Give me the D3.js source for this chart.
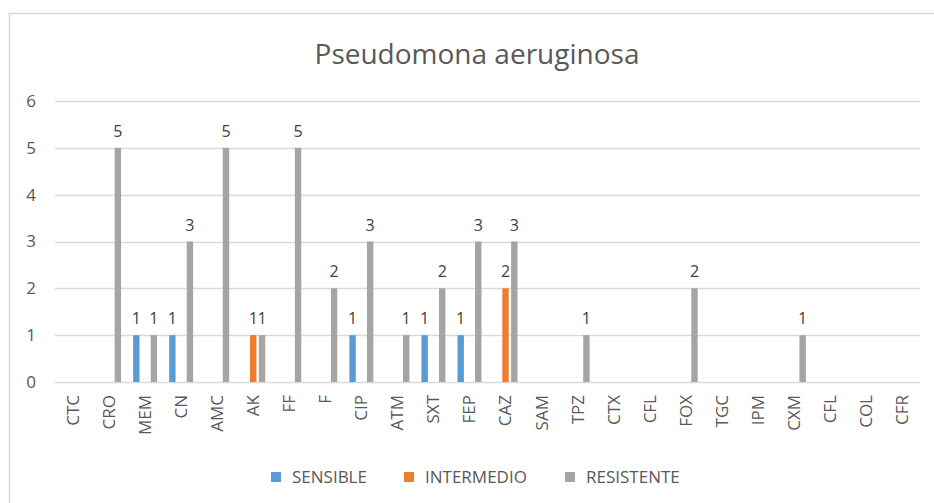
<!DOCTYPE html>
<html>
<head>
<meta charset="utf-8">
<script src="https://cdn.jsdelivr.net/npm/d3@7"></script>
<style>
	body { margin: 0; background: #fff; }
	svg { display: block; font-family: "Open Sans", sans-serif; }
</style>
</head>
<body>
<script>
// Antibióticos (categorías del eje X)
var categories = ['CTC', 'CRO', 'MEM', 'CN', 'AMC', 'AK', 'FF', 'F', 'CIP', 'ATM', 'SXT', 'FEP',
	'CAZ', 'SAM', 'TPZ', 'CTX', 'CFL', 'FOX', 'TGC', 'IPM', 'CXM', 'CFL', 'COL', 'CFR'];

// Valores por serie (null = celda vacía)
var sensible   = [null, null, 1, 1, null, null, null, null, 1, null, 1, 1,
	null, null, null, null, null, null, null, null, null, null, null, null];
var intermedio = [null, null, null, null, null, 1, null, null, null, null, null, null,
	2, null, null, null, null, null, null, null, null, null, null, null];
var resistente = [null, 5, 1, 3, 5, 1, 5, 2, 3, 1, 2, 3,
	3, null, 1, null, null, 2, null, null, 1, null, null, null];

var seriesNames = ['SENSIBLE', 'INTERMEDIO', 'RESISTENTE'];
var seriesColors = ['#5b9bd5', '#ed7d31', '#a5a5a5'];
var yTicks = [0, 1, 2, 3, 4, 5, 6];

function ready() {
	var width = 934,
			height = 503,
			margin = { top: 101, right: 14, bottom: 121, left: 55 },
			innerW = width - margin.left - margin.right,
			innerH = height - margin.top - margin.bottom;

	var svg = d3.select('body')
		.append('svg')
		.attr('width', width)
		.attr('height', height);

	// marco del gráfico
	svg.append('rect')
		.attr('x', 9.5).attr('y', 13.5)
		.attr('width', width).attr('height', height)
		.attr('fill', 'none')
		.attr('stroke', '#d9d9d9')
		.attr('stroke-width', 1.5);

	// título
	svg.append('text')
		.attr('x', 477).attr('y', 64)
		.attr('text-anchor', 'middle')
		.attr('fill', '#595959')
		.style('font-size', '28px')
		.text('Pseudomona aeruginosa');

	var g = svg.append('g').attr('transform', 'translate(' + margin.left + ',' + margin.top + ')');

	var x = d3.scaleBand().domain(d3.range(categories.length)).range([0, innerW]);
	var xInner = d3.scaleBand().domain(d3.range(3)).range([-12, 12]).paddingInner(0.27);
	var y = d3.scaleLinear().domain([0, 6]).range([innerH, 0]);

	// líneas de la cuadrícula
	g.append('g')
		.selectAll('line')
		.data(yTicks)
		.enter()
		.append('line')
		.attr('x1', 0).attr('x2', innerW)
		.attr('y1', function(d) { return Math.round(y(d)) + 0.5; })
		.attr('y2', function(d) { return Math.round(y(d)) + 0.5; })
		.attr('stroke', '#d9d9d9')
		.attr('stroke-width', 1.5);

	// eje Y
	var yAxis = g.append('g')
		.call(d3.axisLeft(y).tickValues(yTicks).tickFormat(d3.format('d')).tickSize(0).tickPadding(19));
	yAxis.select('.domain').remove();
	yAxis.selectAll('text')
		.attr('fill', '#595959')
		.style('font-size', '17px')
		.style('font-family', '"Open Sans", sans-serif');

	// eje X
	var xAxis = g.append('g')
		.attr('transform', 'translate(0,' + innerH + ')')
		.call(d3.axisBottom(x).tickSize(0).tickFormat(function(i) { return categories[i]; }));
	xAxis.select('.domain').remove();
	xAxis.selectAll('text')
		.attr('fill', '#595959')
		.style('font-size', '17px')
		.style('font-family', '"Open Sans", sans-serif')
		.attr('transform', 'rotate(-90)')
		.attr('text-anchor', 'end')
		.attr('x', -13)
		.attr('y', 0)
		.attr('dy', '0.35em');

	// barras
	var allSeries = [sensible, intermedio, resistente];
	allSeries.forEach(function(values, s) {
		var items = values.map(function(v, i) { return { i: i, v: v }; })
			.filter(function(d) { return d.v !== null; });

		var cx = function(d) { return x(d.i) + x.bandwidth() / 2 + xInner(s); };

		g.append('g')
			.selectAll('rect')
			.data(items)
			.enter()
			.append('rect')
			.attr('x', cx)
			.attr('y', function(d) { return y(d.v); })
			.attr('width', xInner.bandwidth())
			.attr('height', function(d) { return y(0) - y(d.v); })
			.attr('fill', seriesColors[s]);

		g.append('g')
			.selectAll('text')
			.data(items)
			.enter()
			.append('text')
			.attr('x', function(d) { return cx(d) + xInner.bandwidth() / 2; })
			.attr('y', function(d) { return y(d.v) - 11; })
			.attr('text-anchor', 'middle')
			.attr('fill', '#404040')
			.style('font-size', '16px')
			.text(function(d) { return d.v; });
	});

	// leyenda
	var legendX = [271, 404, 565];
	var legend = svg.append('g')
		.selectAll('g')
		.data(seriesNames)
		.enter()
		.append('g')
		.attr('transform', function(d, i) { return 'translate(' + legendX[i] + ',472)'; });
	legend.append('rect')
		.attr('width', 10).attr('height', 10)
		.attr('fill', function(d, i) { return seriesColors[i]; });
	legend.append('text')
		.attr('x', 21).attr('y', 5)
		.attr('dy', '0.35em')
		.attr('fill', '#595959')
		.style('font-size', '17px')
		.text(function(d) { return d; });
}

window.onload = function() {
	ready();
};
</script>
</body>
</html>
